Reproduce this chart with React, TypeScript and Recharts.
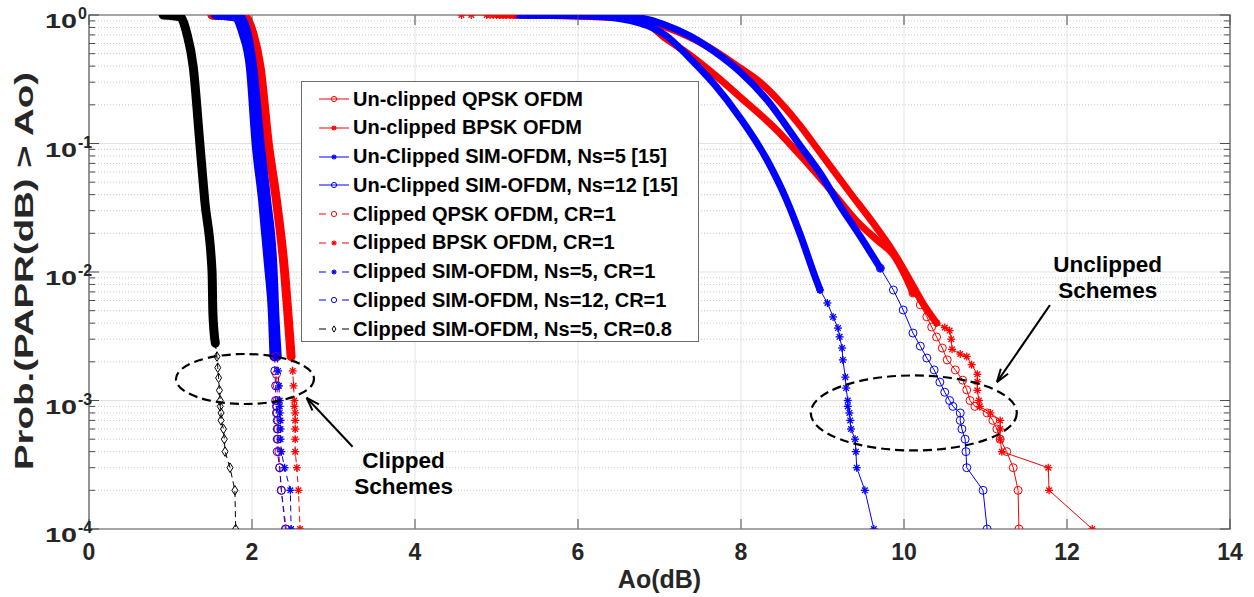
import React from 'react';
import { LineChart, Line, XAxis, YAxis, ReferenceLine, ReferenceArea, ReferenceDot } from 'recharts';

type Pt = [number, number];

// [Ao (dB), Prob(PAPR > Ao)]
const uncQpskBody: Pt[] = [[5.04, 1], [6.27, 0.965], [6.76, 0.914], [7.07, 0.662], [7.37, 0.489], [7.68, 0.341], [7.99, 0.23], [8.44, 0.127], [8.81, 0.0705], [9.13, 0.0412], [9.42, 0.0249], [9.67, 0.0177], [9.87, 0.0136], [10.01, 0.00948], [10.11, 0.00687]];
const uncQpskTail: Pt[] = [[10.11, 0.00687], [10.2, 0.00555], [10.28, 0.00448], [10.34, 0.00373], [10.4, 0.00312], [10.47, 0.00256], [10.53, 0.00207], [10.63, 0.00173], [10.72, 0.00144], [10.77, 0.00121], [10.81, 0.001], [10.87, 9e-4], [11.02, 8e-4], [11.09, 7e-4], [11.14, 6e-4], [11.18, 5e-4], [11.26, 4e-4], [11.34, 3e-4], [11.4, 2e-4], [11.41, 1e-4]];

const uncBpskHead: Pt[] = [[4.57, 1], [4.69, 1], [4.88, 1], [4.92, 1], [4.96, 1], [5.0, 1], [5.04, 1], [5.08, 1], [5.12, 1], [5.17, 1], [5.21, 1]];
const uncBpskBody: Pt[] = [[5.21, 1], [5.53, 1], [6.02, 0.991], [6.52, 0.965], [6.76, 0.914], [7.07, 0.807], [7.37, 0.674], [7.68, 0.525], [7.99, 0.387], [8.23, 0.301], [8.48, 0.21], [8.72, 0.139], [8.93, 0.0923], [9.34, 0.0412], [9.62, 0.0241], [9.87, 0.0143], [10.07, 0.00867], [10.23, 0.00574], [10.4, 0.00401]];
const uncBpskTail: Pt[] = [[10.4, 0.00401], [10.5, 0.0037], [10.56, 0.0035], [10.58, 0.003], [10.59, 0.0025], [10.69, 0.0023], [10.77, 0.0022], [10.83, 0.0019], [10.9, 0.0016], [10.9, 0.0014], [10.9, 0.0012], [10.92, 0.001], [10.93, 9e-4], [11.06, 8e-4], [11.18, 7e-4], [11.18, 6e-4], [11.18, 5e-4], [11.2, 4e-4], [11.77, 3e-4], [11.78, 2e-4], [12.31, 1e-4]];

const uncSim5Body: Pt[] = [[5.25, 1], [6.15, 0.982], [6.76, 0.866], [7.07, 0.699], [7.37, 0.463], [7.68, 0.285], [7.99, 0.158], [8.32, 0.0744], [8.56, 0.0363], [8.72, 0.0201], [8.91, 0.00914], [8.97, 0.00725]];
const uncSim5Tail: Pt[] = [[8.97, 0.00725], [9.06, 0.00574], [9.13, 0.00447], [9.19, 0.00366], [9.21, 0.00313], [9.24, 0.00256], [9.25, 0.00207], [9.28, 0.00152], [9.29, 0.00125], [9.31, 0.001], [9.31, 9e-4], [9.33, 8e-4], [9.34, 7e-4], [9.35, 6e-4], [9.4, 5e-4], [9.41, 4e-4], [9.42, 3e-4], [9.52, 2e-4], [9.63, 1e-4]];

const uncSim12Body: Pt[] = [[5.29, 1], [6.27, 0.982], [6.76, 0.948], [7.07, 0.836], [7.37, 0.687], [7.68, 0.516], [7.99, 0.36], [8.32, 0.218], [8.72, 0.0973], [8.97, 0.0589], [9.21, 0.0332], [9.46, 0.0191], [9.71, 0.0107]];
const uncSim12Tail: Pt[] = [[9.71, 0.0107], [9.87, 0.00724], [9.99, 0.00506], [10.11, 0.00335], [10.2, 0.00265], [10.28, 0.00214], [10.37, 0.00173], [10.44, 0.00139], [10.5, 0.00116], [10.56, 0.001], [10.6, 9e-4], [10.69, 8e-4], [10.69, 7e-4], [10.71, 6e-4], [10.75, 5e-4], [10.76, 4e-4], [10.77, 3e-4], [10.97, 2e-4], [11.02, 1e-4]];

const clipQpskBody: Pt[] = [[1.51, 1], [1.8, 0.965], [1.9, 0.72], [1.99, 0.39], [2.07, 0.1], [2.15, 0.036], [2.23, 0.01], [2.27, 0.0048], [2.29, 0.0022]];
const clipQpskTail: Pt[] = [[2.29, 0.0022], [2.3, 0.0016], [2.31, 0.0013], [2.31, 0.001], [2.31, 9e-4], [2.31, 8e-4], [2.32, 7e-4], [2.32, 6e-4], [2.32, 5e-4], [2.33, 4e-4], [2.34, 3e-4], [2.36, 2e-4], [2.42, 1e-4]];

const clipBpskBody: Pt[] = [[1.51, 1], [1.91, 0.965], [2.01, 0.72], [2.1, 0.39], [2.2, 0.1], [2.3, 0.036], [2.4, 0.01], [2.44, 0.0048], [2.48, 0.0022]];
const clipBpskTail: Pt[] = [[2.48, 0.0022], [2.5, 0.0017], [2.51, 0.0013], [2.52, 0.001], [2.52, 9e-4], [2.53, 8e-4], [2.53, 7e-4], [2.53, 6e-4], [2.53, 5e-4], [2.53, 4e-4], [2.55, 3e-4], [2.57, 2e-4], [2.59, 1e-4]];

const clipSim5Body: Pt[] = [[1.57, 1], [1.85, 0.965], [1.94, 0.72], [2.01, 0.39], [2.1, 0.1], [2.18, 0.036], [2.26, 0.01], [2.28, 0.0048], [2.31, 0.0022]];
const clipSim5Tail: Pt[] = [[2.31, 0.0022], [2.32, 0.0017], [2.33, 0.0013], [2.34, 0.001], [2.34, 9e-4], [2.34, 8e-4], [2.35, 7e-4], [2.35, 6e-4], [2.35, 5e-4], [2.36, 4e-4], [2.4, 3e-4], [2.47, 2e-4], [2.48, 1e-4]];

const clipSim12Body: Pt[] = [[1.55, 1], [1.8, 0.965], [1.89, 0.72], [1.98, 0.39], [2.05, 0.1], [2.13, 0.036], [2.21, 0.01], [2.25, 0.0048], [2.27, 0.0022]];
const clipSim12Tail: Pt[] = [[2.27, 0.0022], [2.28, 0.0017], [2.29, 0.0013], [2.29, 0.001], [2.3, 9e-4], [2.3, 8e-4], [2.31, 7e-4], [2.31, 6e-4], [2.31, 5e-4], [2.31, 4e-4], [2.34, 3e-4], [2.36, 2e-4], [2.41, 1e-4]];

const clipCr08Body: Pt[] = [[0.91, 1], [1.12, 0.965], [1.2, 0.72], [1.28, 0.39], [1.36, 0.1], [1.42, 0.036], [1.51, 0.01], [1.52, 0.0048], [1.55, 0.0028]];
const clipCr08Tail: Pt[] = [[1.55, 0.0028], [1.57, 0.0022], [1.58, 0.0018], [1.59, 0.0015], [1.6, 0.0012], [1.61, 0.001], [1.61, 9e-4], [1.62, 8e-4], [1.62, 7e-4], [1.65, 6e-4], [1.66, 5e-4], [1.67, 4e-4], [1.73, 3e-4], [1.79, 2e-4], [1.8, 1e-4]];

const xTicks = [0, 2, 4, 6, 8, 10, 12, 14];
const decades = [1e-4, 1e-3, 1e-2, 1e-1, 1];
const minorSteps = [2, 3, 4, 5, 6, 7, 8, 9];

const legendLabels = [
  'Un-clipped QPSK OFDM',
  'Un-clipped BPSK OFDM',
  'Un-Clipped SIM-OFDM, Ns=5 [15]',
  'Un-Clipped SIM-OFDM, Ns=12 [15]',
  'Clipped QPSK OFDM, CR=1',
  'Clipped BPSK OFDM, CR=1',
  'Clipped SIM-OFDM, Ns=5, CR=1',
  'Clipped SIM-OFDM, Ns=12, CR=1',
  'Clipped SIM-OFDM, Ns=5, CR=0.8',
];

const W = 1254;
const H = 597;
const PLOT_L = 89;
const PLOT_R = 1230;
const FONT = "'Liberation Sans', Arial, Helvetica, sans-serif";
const RED = '#ff0000';
const BLUE = '#0000ff';
const AXIS = '#4d4d4d';

type Kind = 'o' | '*' | 'd';

const series = [
  { body: uncQpskBody, tail: uncQpskTail, color: RED, kind: 'o' as Kind, dashed: false, width: 7 },
  { body: uncBpskBody, tail: uncBpskTail, head: uncBpskHead, color: RED, kind: '*' as Kind, dashed: false, width: 7 },
  { body: uncSim5Body, tail: uncSim5Tail, color: BLUE, kind: '*' as Kind, dashed: false, width: 7 },
  { body: uncSim12Body, tail: uncSim12Tail, color: BLUE, kind: 'o' as Kind, dashed: false, width: 7 },
  { body: clipQpskBody, tail: clipQpskTail, color: RED, kind: 'o' as Kind, dashed: true, width: 9 },
  { body: clipBpskBody, tail: clipBpskTail, color: RED, kind: '*' as Kind, dashed: true, width: 9 },
  { body: clipSim5Body, tail: clipSim5Tail, color: BLUE, kind: '*' as Kind, dashed: true, width: 9 },
  { body: clipSim12Body, tail: clipSim12Tail, color: BLUE, kind: 'o' as Kind, dashed: true, width: 9 },
  { body: clipCr08Body, tail: clipCr08Tail, color: '#000000', kind: 'd' as Kind, dashed: true, width: 9 },
];

const toData = (pts: Pt[]) => pts.map(([x, p]) => ({ x, p }));

function Marker({ kind, cx, cy, color, s }: { kind: Kind; cx: number; cy: number; color: string; s: number }) {
  if (cx == null || cy == null || isNaN(cx) || isNaN(cy)) return null;
  if (kind === 'o') return <circle cx={cx} cy={cy} r={s} fill="none" stroke={color} strokeWidth={1} />;
  if (kind === 'd')
    return (
      <polygon
        points={`${cx},${cy - s * 1.2} ${cx + s * 0.75},${cy} ${cx},${cy + s * 1.2} ${cx - s * 0.75},${cy}`}
        fill="none"
        stroke={color}
        strokeWidth={1}
      />
    );
  const d = s * 0.7;
  return (
    <g stroke={color} strokeWidth={1.3}>
      <line x1={cx - s} x2={cx + s} y1={cy} y2={cy} />
      <line x1={cx} x2={cx} y1={cy - s} y2={cy + s} />
      <line x1={cx - d} x2={cx + d} y1={cy - d} y2={cy + d} />
      <line x1={cx - d} x2={cx + d} y1={cy + d} y2={cy - d} />
    </g>
  );
}

const dotFor = (kind: Kind, color: string) => (props: any) => (
  <Marker key={props.key ?? `${props.cx}-${props.cy}`} kind={kind} cx={props.cx} cy={props.cy} color={color} s={4} />
);

const YTick = (props: any) => {
  const { y, payload } = props;
  const v = payload.value as number;
  const lg = Math.log10(v);
  const exp = Math.round(lg);
  const major = Math.abs(lg - exp) < 1e-6;
  const len = major ? 10 : 6;
  return (
    <g>
      <line x1={PLOT_L} x2={PLOT_L + len} y1={y} y2={y} stroke={AXIS} />
      <line x1={PLOT_R} x2={PLOT_R - len} y1={y} y2={y} stroke={AXIS} />
      {major && (
        <g fontFamily={FONT} fontWeight="bold" fill="#262626">
          <text x={77} y={y + 13} fontSize={21} textAnchor="end" textLength={32} lengthAdjust="spacingAndGlyphs">
            10
          </text>
          <text x={78} y={y + 4} fontSize={16} textAnchor="start">
            {exp === 0 ? '0' : `-${-exp}`}
          </text>
        </g>
      )}
    </g>
  );
};

const XTick = (props: any) => {
  const { x, payload } = props;
  return (
    <g>
      <line x1={x} x2={x} y1={529} y2={519} stroke={AXIS} />
      <line x1={x} x2={x} y1={15} y2={25} stroke={AXIS} />
      <text x={x} y={560} fontSize={23} fontFamily={FONT} fontWeight="bold" fill="#262626" textAnchor="middle">
        {payload.value}
      </text>
    </g>
  );
};

const Ellipse = (rx: number, ry: number) => (props: any) => (
  <ellipse cx={props.cx} cy={props.cy} rx={rx} ry={ry} fill="none" stroke="#000" strokeWidth={2.2} strokeDasharray="9 5" />
);

const Arrow = (dx: number, dy: number) => (props: any) => {
  const { cx, cy } = props;
  const a = Math.atan2(dy, dx);
  const h = 14;
  const sp = 0.32;
  return (
    <g stroke="#000" strokeWidth={2} fill="none">
      <line x1={cx} y1={cy} x2={cx + dx} y2={cy + dy} />
      <line x1={cx} y1={cy} x2={cx + h * Math.cos(a + sp)} y2={cy + h * Math.sin(a + sp)} />
      <line x1={cx} y1={cy} x2={cx + h * Math.cos(a - sp)} y2={cy + h * Math.sin(a - sp)} />
    </g>
  );
};

const TwoLines = (a: string, b: string) => (props: any) => (
  <text x={props.cx} y={props.cy} fontSize={22.5} fontFamily={FONT} fontWeight="bold" fill="#000" textAnchor="middle">
    <tspan x={props.cx} dy={0}>{a}</tspan>
    <tspan x={props.cx} dy={26}>{b}</tspan>
  </text>
);

function LegendSample({ kind, color, dashed }: { kind: Kind; color: string; dashed: boolean }) {
  return (
    <svg width={32} height={12} style={{ display: 'block' }}>
      {dashed ? (
        <>
          <line x1={1} x2={8} y1={6} y2={6} stroke={color} strokeWidth={1} />
          <line x1={24} x2={31} y1={6} y2={6} stroke={color} strokeWidth={1} />
        </>
      ) : (
        <line x1={1} x2={31} y1={6} y2={6} stroke={color} strokeWidth={1} />
      )}
      <Marker kind={kind} cx={16} cy={6} color={color} s={2.6} />
    </svg>
  );
}

export default function App() {
  return (
    <div style={{ position: 'absolute', left: 0, top: 0, width: W, height: H, background: '#fff' }}>
      <LineChart width={W} height={H} margin={{ top: 15, right: W - PLOT_R, bottom: 0, left: 0 }}>
        <XAxis
          dataKey="x"
          type="number"
          domain={[0, 14]}
          ticks={xTicks}
          interval={0}
          height={68}
          axisLine={false}
          tickLine={false}
          tick={<XTick />}
          allowDataOverflow
          label={{
            content: (p: any) => {
              const vb = p.viewBox;
              return (
                <text x={vb.x + vb.width / 2} y={vb.y + 59} fontSize={25} fontFamily={FONT} fontWeight="bold" fill="#262626" textAnchor="middle">
                  Ao(dB)
                </text>
              );
            },
          }}
        />
        <YAxis
          type="number"
          scale="log"
          domain={[1e-4, 1]}
          ticks={[...decades, ...decades.slice(0, 4).flatMap((d) => minorSteps.map((m) => d * m))]}
          interval={0}
          width={PLOT_L}
          axisLine={false}
          tickLine={false}
          tick={<YTick />}
          allowDataOverflow
          label={{
            content: () => (
              <text
                x={24}
                y={271}
                transform="rotate(-90 24 271)"
                fontSize={26}
                fontFamily={FONT}
                fontWeight="bold"
                fill="#262626"
                textAnchor="middle"
                dominantBaseline="central"
                textLength={398}
                lengthAdjust="spacingAndGlyphs"
              >
                Prob.(PAPR(dB) &gt; Ao)
              </text>
            ),
          }}
        />

        {xTicks.slice(1, -1).map((x) => (
          <ReferenceLine key={`gx${x}`} x={x} stroke="#e3e3e3" strokeWidth={1} />
        ))}
        {decades.slice(0, 4).flatMap((d) =>
          minorSteps.map((m) => (
            <ReferenceLine key={`gm${d}-${m}`} y={d * m} stroke="#c8c8c8" strokeWidth={1} strokeDasharray="1 2" />
          )),
        )}
        {decades.slice(1, 4).map((d) => (
          <ReferenceLine key={`gd${d}`} y={d} stroke="#e3e3e3" strokeWidth={1.2} />
        ))}

        {series.flatMap((s, i) => [
          <Line
            key={`b${i}`}
            type="monotone"
            data={toData(s.body)}
            dataKey="p"
            stroke={s.color}
            strokeWidth={s.width}
            strokeLinecap="round"
            strokeLinejoin="round"
            dot={false}
            activeDot={false}
            isAnimationActive={false}
          />,
          <Line
            key={`t${i}`}
            data={toData(s.tail)}
            dataKey="p"
            stroke={s.color}
            strokeWidth={1}
            strokeDasharray={s.dashed ? '6 4' : undefined}
            dot={dotFor(s.kind, s.color)}
            activeDot={false}
            isAnimationActive={false}
          />,
          ...(s.head
            ? [
                <Line
                  key={`h${i}`}
                  data={toData(s.head)}
                  dataKey="p"
                  stroke={s.color}
                  strokeWidth={1}
                  dot={dotFor(s.kind, s.color)}
                  activeDot={false}
                  isAnimationActive={false}
                />,
              ]
            : []),
        ])}

        <ReferenceArea x1={0} x2={14} y1={1e-4} y2={1} fill="none" fillOpacity={0} stroke={AXIS} strokeWidth={1.2} />

        <ReferenceDot x={1.914} y={1.47e-3} r={1} shape={Ellipse(69, 25)} />
        <ReferenceDot x={10.12} y={8e-4} r={1} shape={Ellipse(103, 37.5)} />
        <ReferenceDot x={2.67} y={1.05e-3} r={1} shape={Arrow(46, 49)} />
        <ReferenceDot x={11.14} y={1.39e-3} r={1} shape={Arrow(53, -77)} />
        <ReferenceDot x={3.86} y={3.0e-4} r={1} shape={TwoLines('Clipped', 'Schemes')} />
        <ReferenceDot x={12.5} y={1.0e-2} r={1} shape={TwoLines('Unclipped', 'Schemes')} />
      </LineChart>

      <div
        style={{
          position: 'absolute',
          left: 301,
          top: 81,
          width: 396,
          height: 259,
          border: '1px solid #6b6b6b',
          background: '#fff',
          fontFamily: FONT,
          fontWeight: 'bold',
          fontSize: 20,
          color: '#000',
        }}
      >
        {series.map((s, i) => (
          <div
            key={i}
            style={{ position: 'absolute', left: 16, top: 5 + i * 28.75, height: 24, display: 'flex', alignItems: 'center', whiteSpace: 'nowrap' }}
          >
            <LegendSample kind={s.kind} color={s.color} dashed={s.dashed} />
            <span style={{ marginLeft: 3 }}>{legendLabels[i]}</span>
          </div>
        ))}
      </div>
    </div>
  );
}
